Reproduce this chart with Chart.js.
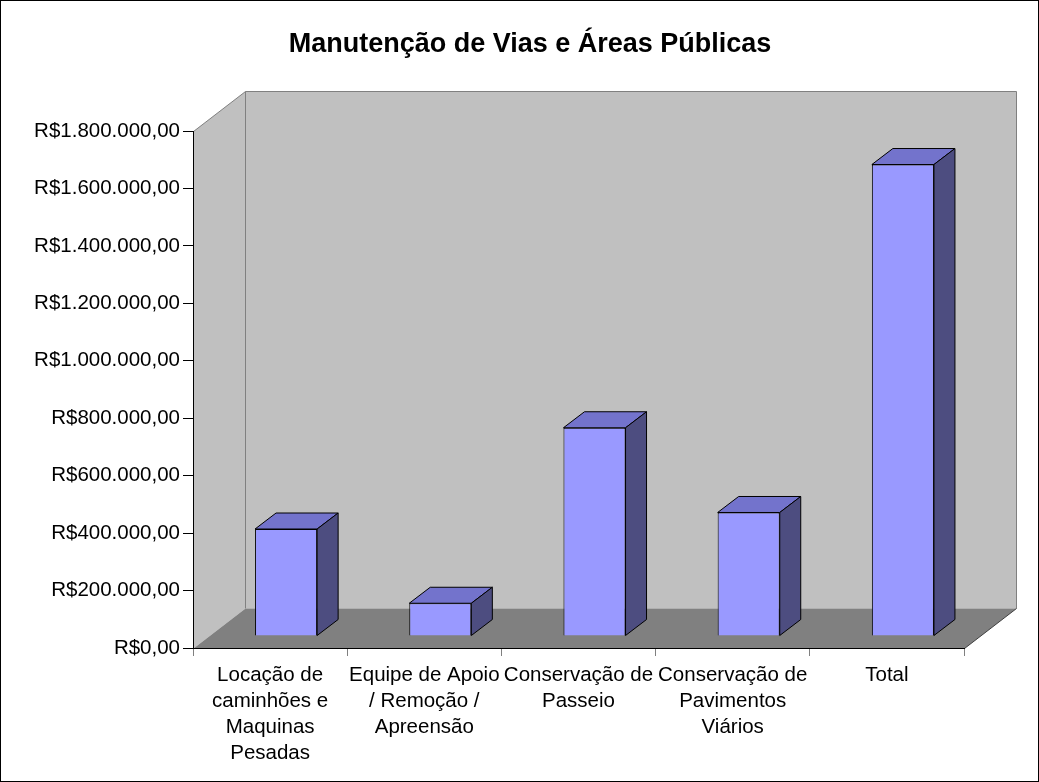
<!DOCTYPE html>
<html lang="pt-BR">
<head>
<meta charset="UTF-8">
<title>Manutenção de Vias e Áreas Públicas</title>
<script src="https://cdn.jsdelivr.net/npm/chart.js"></script>
<style>
  body { margin: 0; background: #fff; }
  #wrap { width: 1039px; height: 782px; }
</style>
</head>
<body>
<div id="wrap"><canvas id="chart" width="1039" height="782"></canvas></div>
<script>
const title = 'Manutenção de Vias e Áreas Públicas';
const categories = [
  ['Locação de', 'caminhões e', 'Maquinas', 'Pesadas'],
  ['Equipe de Apoio', '/ Remoção /', 'Apreensão'],
  ['Conservação de', 'Passeio'],
  ['Conservação de', 'Pavimentos', 'Viários'],
  ['Total']
];
const values = [372500, 114000, 725000, 430000, 1641500];
const yMax = 1800000;
const yStep = 200000;

const FONT = "'Liberation Sans', Arial, sans-serif";

function brl(v) {
  const s = Math.round(v).toString().replace(/\B(?=(\d{3})+(?!\d))/g, '.');
  return 'R$' + s + ',00';
}

// 3D look: depth of the walls, where the bars sit, and the bar depth (px)
const WALL = { dx: 52, dy: 40 };
const BAR_SHIFT = { dx: 16, dy: 12 };
const BAR_DEPTH = { dx: 21, dy: 16 };

function poly(ctx, pts, fill, stroke) {
  ctx.beginPath();
  ctx.moveTo(pts[0][0], pts[0][1]);
  for (let i = 1; i < pts.length; i++) ctx.lineTo(pts[i][0], pts[i][1]);
  ctx.closePath();
  if (fill) { ctx.fillStyle = fill; ctx.fill(); }
  if (stroke) { ctx.strokeStyle = stroke; ctx.lineWidth = 1; ctx.stroke(); }
}

const box3d = {
  id: 'box3d',
  beforeDraw(chart) {
    const { ctx, chartArea: a, width, height } = chart;
    ctx.save();
    ctx.fillStyle = '#fff';
    ctx.fillRect(0, 0, width, height);
    ctx.strokeStyle = '#000';
    ctx.lineWidth = 1;
    ctx.strokeRect(0.5, 0.5, width - 1, height - 1);

    const L = Math.round(a.left) + 0.5, R = Math.round(a.right) + 0.5;
    const T = Math.round(a.top) + 0.5, B = Math.round(a.bottom) + 0.5;
    const bl = L + WALL.dx, br = R + WALL.dx, bt = T - WALL.dy, bb = B - WALL.dy;

    // left side wall
    poly(ctx, [[L, T], [bl, bt], [bl, bb], [L, B]], '#c0c0c0', null);
    // back wall
    poly(ctx, [[bl, bt], [br, bt], [br, bb], [bl, bb]], '#c0c0c0', null);
    // floor
    poly(ctx, [[L, B], [bl, bb], [br, bb], [R, B]], '#808080', null);

    ctx.strokeStyle = '#808080';
    ctx.beginPath();
    ctx.moveTo(L, T); ctx.lineTo(bl, bt); ctx.lineTo(br, bt); ctx.lineTo(br, bb);
    ctx.moveTo(bl, bt); ctx.lineTo(bl, bb);
    ctx.stroke();
    ctx.strokeStyle = '#404040';
    ctx.beginPath();
    ctx.moveTo(br, bb); ctx.lineTo(R, B);
    ctx.stroke();

    // chart title, centred on the whole picture
    ctx.fillStyle = '#000';
    ctx.font = 'bold 27px ' + FONT;
    ctx.textAlign = 'center';
    ctx.textBaseline = 'middle';
    ctx.fillText(title, 530, 45);
    ctx.restore();
  },
  beforeDatasetsDraw(chart) {
    chart.ctx.save();
    chart.ctx.translate(BAR_SHIFT.dx, -BAR_SHIFT.dy);
  },
  afterDatasetsDraw(chart) {
    const ctx = chart.ctx;
    chart.getDatasetMeta(0).data.forEach(bar => {
      const l = bar.x - bar.width / 2, r = bar.x + bar.width / 2;
      const t = bar.y, b = bar.base;
      const dx = BAR_DEPTH.dx, dy = BAR_DEPTH.dy;
      poly(ctx, [[l, t], [l + dx, t - dy], [r + dx, t - dy], [r, t]], '#7373cc', '#000');
      poly(ctx, [[r, t], [r + dx, t - dy], [r + dx, b - dy], [r, b]], '#4d4d80', '#000');
    });
    ctx.restore();
  }
};

new Chart(document.getElementById('chart'), {
  type: 'bar',
  data: {
    labels: categories,
    datasets: [{
      data: values,
      backgroundColor: '#9999ff',
      borderColor: '#000',
      borderWidth: 1,
      barPercentage: 1,
      categoryPercentage: 62 / 154
    }]
  },
  options: {
    responsive: false,
    animation: false,
    layout: { padding: { left: 0, right: 75, top: 131, bottom: 0 } },
    plugins: {
      legend: { display: false },
      tooltip: { enabled: false },
      title: { display: false }
    },
    scales: {
      x: {
        grid: { drawOnChartArea: false, tickLength: 8, color: '#808080' },
        border: { color: '#000' },
        ticks: {
          color: '#000',
          font: { family: FONT, size: 20.5, lineHeight: 1.27 },
          padding: 6,
          maxRotation: 0,
          autoSkip: false
        },
        afterFit(s) { s.height = 134; }
      },
      y: {
        min: 0,
        max: yMax,
        grid: { drawOnChartArea: false, tickLength: 10, color: '#000' },
        border: { color: '#000' },
        ticks: {
          stepSize: yStep,
          callback: v => brl(v),
          color: '#000',
          font: { family: FONT, size: 20.5 },
          padding: 3
        },
        afterFit(s) { s.width = 193; }
      }
    }
  },
  plugins: [box3d]
});
</script>
</body>
</html>
